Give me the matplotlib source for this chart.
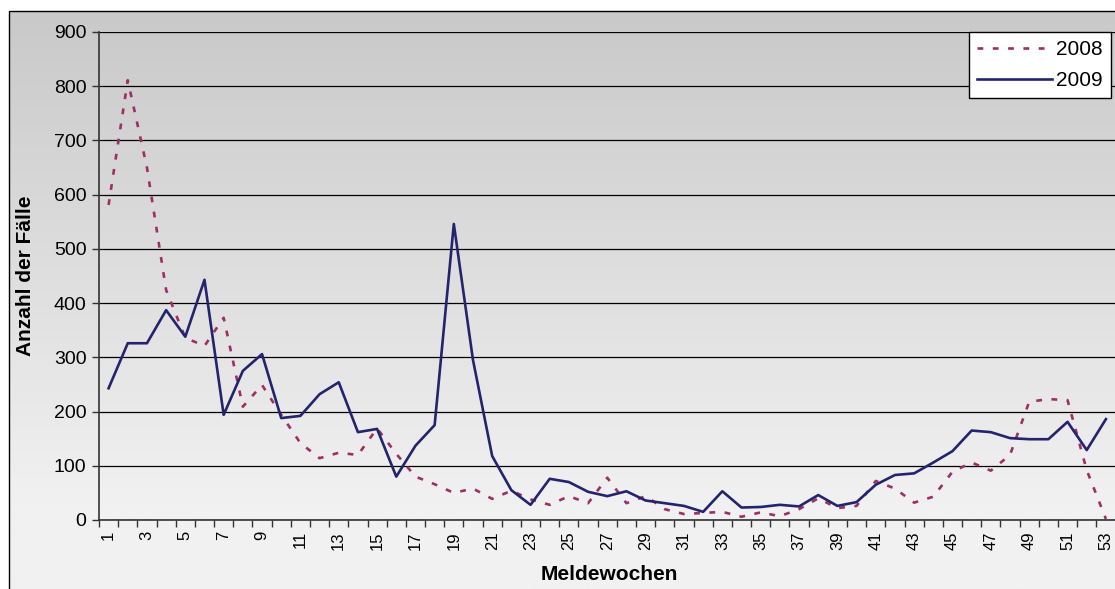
import matplotlib.pyplot as plt
import numpy as np
from matplotlib.patches import Rectangle

weeks = np.arange(1, 54)
cases_2008 = [581, 811, 650, 424, 336, 321, 373, 209, 249, 194, 142, 114, 124, 120,
              169, 122, 80, 66, 50, 58, 39, 54, 38, 28, 44, 31, 78, 31, 44, 20,
              11, 13, 15, 6, 14, 7, 20, 40, 22, 26, 72, 58, 32, 43, 89, 106,
              91, 120, 218, 223, 221, 92, 2]
cases_2009 = [243, 326, 326, 387, 338, 443, 194, 275, 306, 188, 192, 232, 254, 162,
              168, 80, 137, 175, 546, 295, 118, 55, 28, 76, 70, 52, 44, 53, 36, 31,
              26, 15, 53, 23, 24, 28, 25, 46, 26, 33, 65, 83, 86, 106, 127, 165,
              162, 151, 149, 149, 181, 129, 186]
yticks = [0, 100, 200, 300, 400, 500, 600, 700, 800, 900]

plt.rcParams['font.family'] = ['Liberation Sans', 'DejaVu Sans']

W, H = 1115, 589
fig = plt.figure(figsize=(W / 100, H / 100), dpi=100)
fig.patch.set_facecolor('white')

# background gradient of the chart area
bg = fig.add_axes([0, 0, 1, 1], zorder=0)
bg.set_xlim(0, W)
bg.set_ylim(H, 0)
bg.axis('off')
grad = np.linspace(0, 1, 300)
grad = np.clip(grad / 0.85, 0, 1)
top = np.array([0xc9, 0xc9, 0xc9]) / 255
bot = np.array([0xf1, 0xf1, 0xf1]) / 255
img = top[None, :] * (1 - grad[:, None]) + bot[None, :] * grad[:, None]
bg.imshow(img[:, None, :], extent=[9, W + 5, H, 11], aspect='auto', zorder=0)
bg.add_patch(Rectangle((9, 11), W, H, fill=False, edgecolor='black', lw=1.0, zorder=1))

ax = fig.add_axes([99 / W, 1 - 520 / H, 1016.5 / W, 488 / H], zorder=1)
ax.set_facecolor('none')

ax.plot(weeks, cases_2008, color='#9e2f62', lw=1.9, dashes=(2.2, 3.6), label='2008')
ax.plot(weeks, cases_2009, color='#24246e', lw=1.9, label='2009')

ax.set_xlim(0.5, 53.5)
ax.set_ylim(0, 900)
ax.set_yticks(yticks)
ax.yaxis.grid(True, color='black', lw=0.9)
ax.set_axisbelow(True)

ax.set_xticks(weeks[::2])
ax.set_xticklabels([str(w) for w in weeks[::2]], rotation=90, fontsize=12)
ax.set_xticks(np.arange(0.5, 54, 1), minor=True)
ax.tick_params(axis='x', which='major', length=0, pad=8)
ax.tick_params(axis='x', which='minor', length=5, width=1, color='#333333')
ax.tick_params(axis='y', length=5, width=1, color='#333333', labelsize=14, pad=4)

for s in ['top', 'right']:
    ax.spines[s].set_visible(False)
for s in ['left', 'bottom']:
    ax.spines[s].set_color('#333333')
    ax.spines[s].set_linewidth(1.2)

lab_font = ['Liberation Sans Narrow', 'Liberation Sans', 'DejaVu Sans']
fig.text(609 / W, 1 - 575 / H, 'Meldewochen', ha='center', va='center',
         fontsize=15, fontweight='bold', family=lab_font)
fig.text(26 / W, 1 - 276 / H, 'Anzahl der Fälle', ha='center', va='center',
         rotation=90, fontsize=15, fontweight='bold', family=lab_font)

leg = ax.legend(loc='upper right', bbox_to_anchor=(1111 / W, 1 - 32 / H),
                bbox_transform=fig.transFigure, fontsize=15, frameon=True,
                fancybox=False, borderaxespad=0, handlelength=3.6,
                handletextpad=0.2, labelspacing=0.55, borderpad=0.4)
leg.get_frame().set_edgecolor('black')
leg.get_frame().set_linewidth(1.0)
leg.get_frame().set_facecolor('white')
leg.get_frame().set_alpha(1)

fig.savefig('out.png', dpi=100)
